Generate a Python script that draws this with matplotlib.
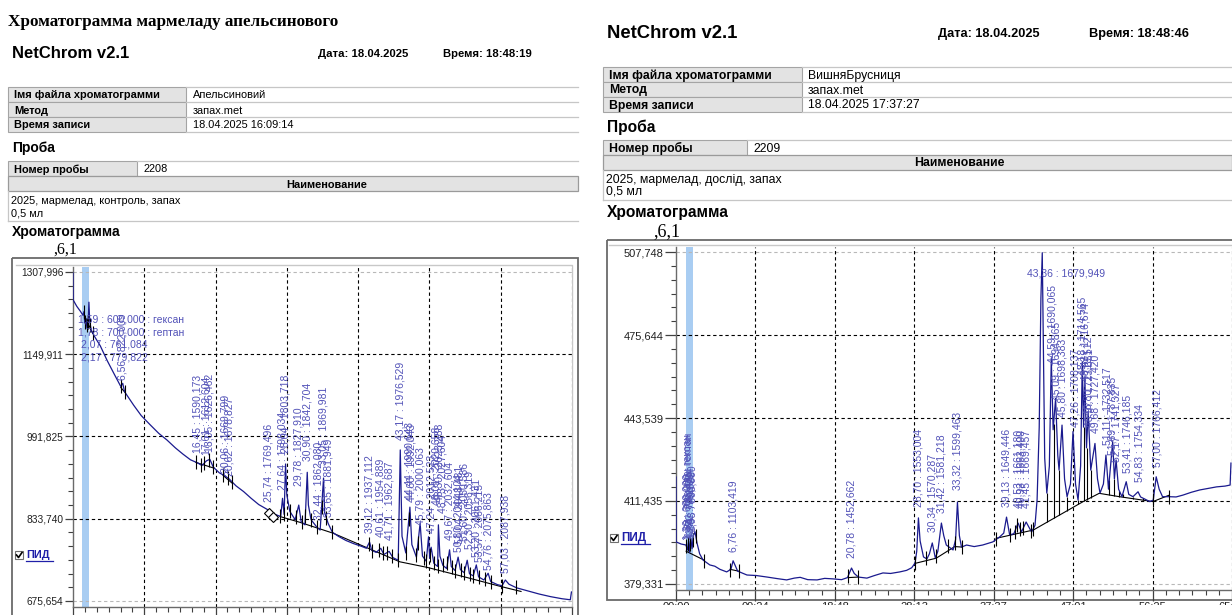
import numpy as np
import matplotlib.pyplot as plt
from matplotlib.patches import Rectangle
from matplotlib.ticker import AutoMinorLocator

plt.rcParams['font.family'] = ['Liberation Sans', 'DejaVu Sans']

W, H = 1232, 615
step = 9.4033  # one grid cell = 09:24
xlabels = ["00:00", "09:24", "18:48", "28:13", "37:37", "47:01", "56:25", "65:50"]
band = (1.18, 2.05)

# ---------------- left chromatogram: Апельсиновий ----------------
L_t = [0.00, 0.03, 0.5, 1.0, 1.3, 1.45, 1.55, 1.7, 1.85, 2.0, 2.1, 2.2, 2.4, 2.8, 3.6, 4.5, 5.5, 6.3, 6.56, 6.8,
       8.0, 9.0, 10.2, 11.3, 12.4, 13.5, 14.5, 15.5, 16.45, 17.0, 17.6, 18.05, 18.5, 19.3, 20.06, 20.62, 21.5,
       22.5, 23.5, 24.5, 25.7, 26.5, 27.4, 27.64, 27.85, 28.04, 28.2, 28.6, 29.3, 29.78, 30.1, 30.6, 30.9, 31.05,
       31.4, 32.2, 32.6, 33.05, 33.2, 33.65, 34.2, 35.0, 36.0, 37.0, 38.0, 38.7, 39.12, 39.4, 40.0, 40.6, 41.0,
       41.7, 42.2, 42.9, 43.17, 43.4, 43.9, 44.44, 44.7, 45.3, 45.79, 46.1, 46.6, 46.9, 47.05, 47.24, 47.6, 48.1,
       48.2, 48.4, 48.8, 49.3, 49.67, 49.9, 50.4, 50.8, 51.1, 51.6, 52.0, 52.3, 52.8, 53.2, 53.5, 54.2, 54.76,
       55.1, 56.0, 56.6, 57.03, 57.5, 58.5, 60.0, 61.5, 63.0, 64.5, 65.6, 65.75]
L_v = [1306, 1254, 1242, 1232, 1225, 1232, 1210, 1218, 1200, 1212, 1250, 1215, 1196, 1185, 1166, 1138, 1110, 1088,
       1094, 1078, 1052, 1032, 1014, 998, 985, 970, 958, 947, 941, 936, 945, 948, 933, 922, 916, 910, 897, 886,
       873, 861, 851, 843, 838, 873, 842, 939, 880, 848, 832, 860, 828, 822, 923, 860, 832, 817, 812, 912, 845,
       825, 808, 800, 792, 786, 781, 777, 789, 773, 769, 777, 765, 771, 759, 754, 966, 800, 768, 856, 784, 760,
       825, 762, 752, 799, 758, 779, 748, 742, 822, 762, 744, 738, 774, 742, 734, 760, 736, 730, 754, 728, 724,
       745, 722, 716, 729, 713, 707, 705, 716, 708, 701, 695, 689, 684, 680, 678, 693]
L_base_t = [1.45, 2.6, np.nan, 6.3, 6.9, np.nan, 16.2, 18.6, np.nan, 19.8, 21.0, np.nan,
            27.3, 29.9, 34.3, 39.1, 43.1, 46.8, 51.9, 56.3, 59.1]
L_base_v = [1226, 1190, np.nan, 1086, 1076, np.nan, 942, 931, np.nan, 917, 902, np.nan,
            838, 827, 806, 776, 751, 740, 721, 704, 694]
L_marks = [1.45, 1.6, 1.8, 2.0, 2.3, 2.6, 6.3, 6.8, 16.2, 16.9, 17.3, 17.9, 18.5, 19.8, 20.4, 21.0, 27.3, 27.85,
           28.6, 29.4, 30.2, 30.65, 31.4, 32.2, 32.8, 33.4, 34.2, 39.0, 39.5, 40.3, 40.9, 41.4, 42.1, 42.9, 43.9,
           44.3, 45.2, 45.5, 46.3, 46.6, 47.1, 47.6, 48.1, 48.8, 49.4, 50.0, 50.4, 51.2, 51.6, 52.4, 52.8, 53.6,
           54.3, 55.2, 56.6, 58.4]
L_diam_t = [25.8, 26.4]
L_diam_v = [845, 837]
L_yticks = [675.654, 833.740, 991.825, 1149.911, 1307.996]
L_lab_rt = [6.56, 16.45, 17.61, 18.05, 20.06, 20.62, 25.74, 27.64, 28.04, 29.78, 30.90, 32.44, 33.05, 33.65,
            39.12, 40.61, 41.71, 43.17, 44.44, 44.60, 45.79, 47.24, 48.01, 48.30, 48.73, 49.67, 50.80, 51.04,
            51.60, 52.30, 53.20, 53.57, 54.76, 57.03]
L_lab_y = [1100, 960, 956, 962, 922, 916, 866, 889, 960, 897, 945, 831, 937, 837,
           806, 799, 793, 985, 870, 866, 822, 806, 860, 866, 845, 793, 770, 785,
           790, 775, 760, 750, 735, 730]
L_lab_txt = ["6,56 : 822,009", "16,45 : 1590,173", "17,61 : 1612,604", "18,05 : 1626,462", "20,06 : 1669,799",
             "20,62 : 1678,827", "25,74 : 1769,496", "27,64 : 1798,034", "28,04 : 1803,718", "29,78 : 1827,910",
             "30,90 : 1842,704", "32,44 : 1862,080", "33,05 : 1869,981", "33,65 : 1881,949", "39,12 : 1937,112",
             "40,61 : 1954,889", "41,71 : 1962,687", "43,17 : 1976,529", "44,44 : 1990,643", "44,60 : 1992,043",
             "45,79 : 2000,063", "47,24 : 2012,523", "48,01 : 2020,658", "48,30 : 2023,288", "48,73 : 2027,604",
             "49,67 : 2032,604", "50,80 : 2044,104", "51,04 : 2048,481", "51,60 : 2050,586", "52,30 : 2056,319",
             "53,20 : 2061,431", "53,57 : 2066,215", "54,76 : 2075,863", "57,03 : 2087,938"]
L_hlab_t = [0.66, 0.66, 1.06, 1.06]
L_hlab_v = [1216, 1191, 1168, 1143]
L_hlab_txt = ["1,59 : 600,000 : гексан", "1,78 : 700,000 : гептан", "2,07 : 761,084", "2,17 : 779,822"]

# ---------------- right chromatogram: ВишняБрусниця ----------------
R_t = [0.00, 0.02, 0.6, 1.18, 1.35, 1.5, 1.62, 1.75, 1.9, 2.05, 2.25, 2.5, 2.8, 3.2, 4.0, 4.6, 5.2, 6.0, 6.5,
       6.76, 7.0, 7.3, 8.4, 9.5, 10.8, 12.0, 13.1, 14.0, 14.7, 15.6, 16.7, 17.6, 18.6, 19.6, 20.3, 20.78, 21.1,
       21.6, 22.6, 23.5, 24.5, 25.4, 26.5, 27.3, 27.9, 28.3, 28.5, 28.7, 28.9, 29.3, 29.7, 30.0, 30.34, 30.7,
       31.0, 31.42, 31.7, 32.0, 32.8, 33.1, 33.32, 33.55, 33.8, 34.4, 35.3, 36.3, 37.5, 38.3, 38.8, 39.13, 39.5,
       40.0, 40.5, 40.9, 41.45, 42.1, 42.5, 42.75, 43.0, 43.2, 43.36, 43.5, 43.65, 43.9, 44.2, 44.43, 44.65,
       44.94, 45.2, 45.35, 45.7, 46.0, 46.3, 46.7, 47.0, 47.3, 47.6, 47.9, 48.1, 48.25, 48.4, 48.6, 48.8, 49.1,
       49.6, 49.9, 50.2, 50.6, 50.9, 51.2, 51.7, 51.9, 52.1, 52.4, 52.8, 53.3, 53.6, 54.1, 54.7, 55.0, 55.3,
       56.1, 56.5, 56.85, 57.2, 57.6, 58.4, 59.2, 60.0, 61.0, 62.0, 63.0, 64.0, 65.0, 65.6, 65.7]
R_v = [420.7, 395.6, 394.8, 394.4, 392.5, 396.0, 391.5, 397.0, 393.0, 398.0, 399.5, 395.0, 391.0, 388.6, 386.7,
       386.2, 385.0, 384.0, 385.0, 388.3, 386.5, 384.3, 382.8, 382.6, 382.0, 381.4, 380.9, 381.6, 381.9, 381.0,
       380.9, 381.5, 381.3, 381.0, 381.8, 385.5, 383.4, 382.0, 381.6, 382.6, 383.6, 383.4, 384.0, 384.6, 385.6,
       387.4, 392.0, 404.9, 396.0, 389.8, 389.0, 391.0, 395.2, 389.4, 392.0, 402.9, 398.0, 394.4, 392.5, 396.5,
       411.0, 398.0, 393.6, 394.4, 393.8, 394.4, 395.6, 397.5, 399.0, 405.2, 398.3, 398.8, 402.9, 399.5, 403.3,
       399.4, 402.0, 412.0, 440.0, 490.0, 507.5, 470.0, 428.0, 414.5, 425.0, 466.6, 439.0, 451.1, 429.0, 423.4,
       440.8, 420.0, 413.1, 418.0, 438.3, 418.0, 411.8, 425.0, 465.3, 440.0, 459.5, 432.0, 446.0, 423.4, 433.7,
       420.0, 414.5, 418.0, 429.2, 416.0, 434.4, 420.0, 427.3, 416.0, 413.1, 418.9, 414.0, 413.1, 415.0, 413.0,
       412.5, 411.2, 411.8, 420.8, 416.0, 413.1, 413.1, 413.0, 413.7, 414.8, 415.7, 416.3, 416.9, 417.2, 417.6,
       426.1]
R_base_t = [1.2, 3.3, np.nan, 6.4, 7.4, np.nan, 20.4, 21.6, np.nan, 28.3, 30.8, 33.0, 33.9, np.nan,
            37.9, 42.3, 48.2, 50.1, 52.5, 56.45, 58.4]
R_base_v = [392.0, 388.6, np.nan, 385.0, 384.3, np.nan, 381.8, 382.0, np.nan, 387.3, 389.3, 393.8, 393.6, np.nan,
            397.0, 400.2, 411.2, 414.4, 413.1, 411.2, 413.7]
R_marks = [1.2, 1.45, 1.7, 2.0, 2.35, 3.3, 6.4, 7.4, 20.4, 21.6, 28.3, 29.6, 30.8, 32.2, 33.0, 33.9, 37.9, 39.5,
           40.1, 40.4, 40.75, 41.1, 42.0, 42.3, 56.45, 58.4]
R_drops = [43.9, 44.7, 45.35, 46.3, 47.6, 48.25, 48.6, 49.1, 50.2, 51.3, 51.9, 52.5, 52.9, 54.1, 55.3]
R_yticks = [379.331, 411.435, 443.539, 475.644, 507.748]
R_lab_rt = [1.36, 1.52, 1.61, 1.72, 1.83, 1.98, 6.76, 20.78, 28.70, 30.34, 31.42, 33.32, 39.13, 40.53, 40.93,
            41.45, 44.59, 45.09, 45.80, 47.26, 48.18, 48.43, 48.80, 48.97, 49.68, 51.11, 51.69, 52.17, 53.41,
            54.83, 57.00]
R_lab_y = [396.3, 396.8, 397.5, 398.6, 397.0, 399.5, 391.7, 389.4, 409.1, 399.4, 406.8, 415.7, 409.1, 408.7,
           408.7, 408.7, 464.8, 450.5, 443.9, 440.1, 460.2, 458.0, 444.8, 440.0, 437.7, 433.1, 429.2, 426.5,
           422.3, 418.8, 424.6]
R_lab_txt = ["1,36 : 600,000 : гексан", "1,52 : 700,000 : гептан", "1,61 : 738,420", "1,72 : 761,084",
             "1,83 : 779,822", "1,98 : 800,000", "6,76 : 1103,419", "20,78 : 1452,662", "28,70 : 1553,004",
             "30,34 : 1570,287", "31,42 : 1581,218", "33,32 : 1599,463", "39,13 : 1649,446", "40,53 : 1661,180",
             "40,93 : 1663,400", "41,45 : 1669,457", "44,59 : 1690,065", "45,09 : 1694,865", "45,80 : 1698,383",
             "47,26 : 1708,137", "48,18 : 1714,565", "48,43 : 1716,674", "48,80 : 1719,512", "48,97 : 1723,651",
             "49,68 : 1727,420", "51,11 : 1732,517", "51,69 : 1737,835", "52,17 : 1741,327", "53,41 : 1746,185",
             "54,83 : 1754,334", "57,00 : 1766,412"]
R_hlab_t = [41.6]
R_hlab_v = [499.6]
R_hlab_txt = ["43,36 : 1679,949"]

TRACE = '#1a1a8e'
LABC = '#5252b8'

fig = plt.figure(figsize=(W / 100, H / 100), dpi=100, facecolor='white')
bg = fig.add_axes([0, 0, 1, 1])
bg.set_xlim(0, W)
bg.set_ylim(H, 0)
bg.axis('off')


def px_axes(l, t, r, b):
    return fig.add_axes([l / W, 1 - b / H, (r - l) / W, (b - t) / H])


def txt(x, y, s, fs, **kw):
    bg.text(x, y, s, fontsize=fs, va='center', **kw)


def header(x0, x1, net_y, net_fs, date_x, time_x, date_fs, time_s, top, lab_w, val_x, fs, rows,
           proba_y, num_w, num_val_x, num, name_cx, desc, chrom_y, head_fs, six_x, six_y, six_fs):
    txt(x0 + 4, net_y, "NetChrom v2.1", net_fs, fontweight='bold')
    txt(date_x, net_y, "Дата: 18.04.2025", date_fs, fontweight='bold')
    txt(time_x, net_y, "Время: " + time_s, date_fs, fontweight='bold')
    rh = 15
    for i, (lab, val) in enumerate(rows):
        y = top + i * rh
        bg.add_patch(Rectangle((x0, y), lab_w, rh, fc='#e3e3e3', ec='#a4a4a4', lw=0.8))
        bg.plot([x0 + lab_w, x1], [y, y], color='#c6c6c6', lw=0.9)
        txt(x0 + 6, y + rh / 2 + 1, lab, fs, fontweight='bold')
        txt(val_x, y + rh / 2 + 1, val, fs)
    bg.plot([x0 + lab_w, x1], [top + 3 * rh] * 2, color='#c6c6c6', lw=0.9)
    txt(x0 + 4, proba_y, "Проба", head_fs, fontweight='bold')
    nt = proba_y + 13
    bg.add_patch(Rectangle((x0, nt), num_w, rh, fc='#e3e3e3', ec='#a4a4a4', lw=0.8))
    bg.plot([x0 + num_w, x1], [nt, nt], color='#c6c6c6', lw=0.9)
    txt(x0 + 6, nt + rh / 2 + 1, "Номер пробы", fs, fontweight='bold')
    txt(num_val_x, nt + rh / 2 + 1, num, fs)
    bg.add_patch(Rectangle((x0, nt + rh), x1 - x0, rh, fc='#e3e3e3', ec='#9a9a9a', lw=0.9))
    txt(name_cx, nt + 1.5 * rh + 1, "Наименование", fs, fontweight='bold', ha='center')
    d0 = nt + 2 * rh
    txt(x0 + 3, d0 + 10, desc, fs)
    txt(x0 + 3, d0 + 22, "0,5 мл", fs)
    bg.plot([x0, x0], [d0, d0 + 30], color='#c6c6c6', lw=0.9)
    bg.plot([x0, x1], [d0 + 30, d0 + 30], color='#c6c6c6', lw=0.9)
    txt(x0 + 4, chrom_y, "Хроматограмма", head_fs, fontweight='bold')
    txt(six_x, six_y, ",6,1", six_fs, family='Liberation Serif')


def pid(x, y, fs):
    bg.add_patch(Rectangle((x, y - 4), 8, 8, fc='white', ec='#707070', lw=0.8))
    bg.plot([x + 1.5, x + 3.5, x + 7], [y, y + 2.5, y - 2.5], color='black', lw=1.2)
    bg.text(x + 11, y, "ПИД", fontsize=fs, fontweight='bold', color='#1f1fa8', va='center')
    bg.plot([x + 11, x + 11 + 3.4 * fs], [y + 6, y + 6], color='#1f1fa8', lw=0.9)


def chrom(ax, t, v, bt, bv, marks, yticks, ylim, xmax, lab_rt, lab_y, lab_txt, hl_t, hl_v, hl_txt,
          tick_fs, maj_len, show_x):
    ax.set_xlim(0, xmax)
    ax.set_ylim(*ylim)
    ax.set_facecolor('white')
    for s in ('top', 'right'):
        ax.spines[s].set_visible(False)
    for s in ('left', 'bottom'):
        ax.spines[s].set_color('#6a6a6a')
        ax.spines[s].set_linewidth(1.0)
    ax.set_yticks(yticks)
    ax.set_yticklabels([f"{y:.3f}".replace('.', ',') for y in yticks])
    ax.set_xticks([k * step for k in range(len(xlabels))])
    ax.set_xticklabels(xlabels)
    ax.xaxis.set_minor_locator(AutoMinorLocator(6))
    ax.yaxis.set_minor_locator(AutoMinorLocator(6))
    ax.tick_params(which='major', length=maj_len, width=0.9, color='#404040', labelsize=tick_fs, pad=1,
                   labelcolor='#202020')
    ax.tick_params(which='minor', length=3.5, width=0.8, color='#404040')
    ax.tick_params(axis='x', labelbottom=show_x)
    for i, y in enumerate(yticks):
        c = '#b8b8b8' if i in (0, len(yticks) - 1) else 'black'
        ax.axhline(y, color=c, lw=0.8, ls=(0, (3, 2.5)), zorder=1)
    for k in range(1, len(xlabels)):
        ax.axvline(k * step, color='black', lw=0.8, ls=(0, (3, 2.5)), zorder=1)
    ax.axvspan(*band, color='#a9cdf2', lw=0, zorder=0.5)
    ax.plot(bt, bv, color='black', lw=0.8, zorder=2.5)
    ax.plot(t, v, color=TRACE, lw=0.9, zorder=3)
    ax.plot(marks, np.interp(marks, t, v), ls='none', marker='|', ms=10, mew=0.8, color='black', zorder=4)
    for x, y, s in zip(lab_rt, lab_y, lab_txt):
        ax.text(x, y, s, rotation=90, ha='center', va='bottom', fontsize=7.5, color=LABC, zorder=5)
    for x, y, s in zip(hl_t, hl_v, hl_txt):
        ax.text(x, y, s, ha='left', va='center', fontsize=7.5, color=LABC, zorder=5)


# ---------------- left panel ----------------
bg.text(8, 22, "Хроматограмма мармеладу апельсинового", fontsize=12.3, fontweight='bold',
        family='Liberation Serif', va='center')
header(8, 578, 54, 12, 318, 443, 8.1, "18:48:19", 87, 178, 193, 7.9,
       [("Імя файла хроматограмми", "Апельсиновий"), ("Метод", "запах.met"),
        ("Время записи", "18.04.2025 16:09:14")],
       148, 129, 143, "2208", 327, "2025, мармелад, контроль, запах", 232, 10, 53, 250, 11.5)
bg.add_patch(Rectangle((12, 258), 566, 400, fc='none', ec='#6a6a6a', lw=1.3))
bg.plot([16, 572, 572], [265, 265, 607], color='#c8c8c8', lw=1.0)
pid(15, 555, 7.8)

axL = px_axes(73, 267, 572, 607)
chrom(axL, L_t, L_v, L_base_t, L_base_v, L_marks, L_yticks, (664.1, 1317.6), 65.82,
      L_lab_rt, L_lab_y, L_lab_txt, L_hlab_t, L_hlab_v, L_hlab_txt, 7.3, 6, False)
axL.plot(L_diam_t, L_diam_v, ls='none', marker='D', ms=5.5, mfc='white', mec='black', mew=0.8, zorder=4)

# ---------------- right panel ----------------
header(603, 1232, 34, 13.3, 938, 1089, 9.2, "18:48:46", 67, 199, 808, 8.8,
       [("Імя файла хроматограмми", "ВишняБрусниця"), ("Метод", "запах.met"),
        ("Время записи", "18.04.2025 17:37:27")],
       127, 144, 753, "2209", 959, "2025, мармелад, дослід, запах", 213, 11.2, 653, 232, 13)
bg.add_patch(Rectangle((607, 240), 700, 360, fc='none', ec='#6a6a6a', lw=1.3))
bg.plot([609, 1232], [245, 245], color='#c8c8c8', lw=1.0)
pid(610, 538, 8.4)

axR = px_axes(676, 247, 1232, 590)
R_drop_lo = np.interp(R_drops, [x for x in R_base_t if x == x], [y for y in R_base_v if y == y])
axR.vlines(R_drops, R_drop_lo, np.interp(R_drops, R_t, R_v), color='black', lw=0.8, zorder=2.6)
chrom(axR, R_t, R_v, R_base_t, R_base_v, R_marks, R_yticks, (377.0, 509.7), 65.76,
      R_lab_rt, R_lab_y, R_lab_txt, R_hlab_t, R_hlab_v, R_hlab_txt, 8, 8, True)

# screenshot of the right panel is cut just below the time axis labels
fig.add_artist(Rectangle((600 / W, 0), 632 / W, 10 / H, transform=fig.transFigure,
                         fc='white', ec='none', zorder=10))

fig.savefig('out.png', dpi=100, facecolor='white')
